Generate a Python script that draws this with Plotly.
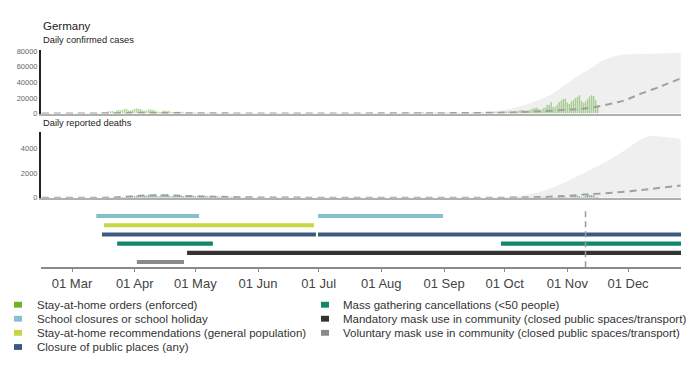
import pandas as pd
import plotly.graph_objects as go

# ---------------- data ----------------
country = "Germany"
cases_title = "Daily confirmed cases"
deaths_title = "Daily reported deaths"

x_start = "2020-02-14 16:00"
x_end = "2020-12-27 05:00"
today = "2020-11-10"

daily_start = "2020-02-15"
daily_cases = [
    0, 0, 0, 0, 0, 0, 0, 0, 0, 0, 5, 10, 20, 30, 50,  # Feb 15-29
    50, 30, 40, 60, 100, 150, 150, 100, 130, 240, 300, 700, 1000, 900, 1000, 1400, 1100, 2000, 2900, 3000,
    3300, 2000, 4000, 4700, 4300, 5000, 6000, 6300, 4000, 4000, 4900,  # Mar
    6200, 6500, 6100, 5900, 4000, 3700, 4000, 5600, 5300, 4900, 4100, 2800, 2500, 2100, 3900, 4000, 3400, 3600, 2000, 1800,
    1900, 2400, 2300, 2300, 1800, 1000, 1000, 1300, 1600, 1500,  # Apr
    1600, 900, 700, 700, 900, 1200, 1200, 1200, 700, 600, 900, 900, 800, 800, 600, 600, 300, 500, 600, 700,
    500, 500, 400, 200, 300, 400, 400, 300, 700, 300, 300,  # May
    200, 300, 400, 300, 500, 300, 300, 200, 300, 300, 600, 300, 400, 200, 200, 400, 300, 800, 700, 600,
    700, 500, 500, 600, 600, 500, 700, 300, 300, 400,  # Jun
    400, 500, 400, 400, 300, 200, 400, 400, 400, 400, 300, 200, 150, 400, 350, 500, 600, 400, 250, 150,
    400, 500, 600, 800, 700, 300, 300, 600, 700, 900, 900,  # Jul
    900, 250, 500, 900, 700, 1000, 1100, 1100, 550, 450, 1000, 1200, 1400, 1400, 1400, 600, 550, 1400, 1500, 1700,
    2000, 1700, 700, 700, 1300, 1600, 1500, 1500, 1500, 700, 600,  # Aug
    1200, 1300, 1300, 1400, 1400, 900, 800, 1200, 1200, 1800, 1500, 1600, 1000, 900, 1400, 1900, 2100, 2200, 1900, 1400,
    900, 1800, 2000, 2100, 2300, 2500, 1400, 1200, 2100, 2500,  # Sep
    2500, 2700, 2600, 1400, 1400, 2600, 2800, 4000, 4500, 4700, 2500, 2500, 4100, 5100, 6600, 7300, 7800, 5600, 4300, 6900,
    7600, 11300, 11200, 14700, 8700, 8700, 11400, 14900, 16800, 18700, 19100,  # Oct
    14100, 12100, 15400, 17200, 19900, 21500, 23400, 16000, 13400, 15300, 18500, 21900, 23500, 22500, 16900, 10800,  # Nov 1-16
]
daily_deaths = [
    0, 0, 0, 0, 0, 0, 0, 0, 0, 0, 0, 0, 0, 0, 0,  # Feb 15-29
    0, 0, 0, 0, 0, 0, 0, 0, 2, 0, 1, 1, 1, 2, 4, 3, 7, 5, 11, 20, 30, 25, 25, 40, 50, 60, 70, 45, 55, 110, 130,  # Mar
    150, 170, 170, 130, 130, 170, 190, 250, 210, 230, 170, 130, 130, 240, 300, 250, 300, 160, 110, 170,
    200, 250, 220, 180, 140, 100, 160, 200, 190, 160,  # Apr
    150, 80, 50, 60, 120, 140, 120, 110, 60, 30, 60, 120, 80, 90, 50, 40, 20, 50, 90, 50,
    50, 40, 20, 10, 40, 50, 40, 30, 30, 20, 10,  # May
    10, 20, 30, 20, 20, 10, 5, 10, 20, 20, 20, 10, 10, 5, 10, 15, 10, 10, 10, 5, 5, 5, 10, 10, 15, 10, 5, 5, 5, 10,  # Jun
    10, 10, 5, 5, 0, 5, 10, 10, 5, 5, 5, 0, 5, 5, 5, 5, 5, 5, 0, 5, 5, 5, 5, 5, 5, 0, 5, 5, 5, 5, 5,  # Jul
    5, 0, 5, 5, 5, 5, 5, 5, 0, 5, 5, 5, 5, 5, 5, 0, 5, 5, 5, 5, 5, 5, 0, 5, 5, 5, 5, 5, 5, 0, 5,  # Aug
    5, 5, 5, 5, 5, 0, 0, 5, 10, 5, 5, 5, 0, 0, 5, 10, 10, 5, 5, 0, 0, 10, 10, 10, 10, 10, 0, 5, 15, 10,  # Sep
    10, 15, 10, 5, 5, 15, 15, 20, 15, 20, 5, 5, 25, 30, 30, 35, 30, 10, 10, 40,
    40, 50, 50, 50, 20, 20, 40, 80, 90, 100, 80,  # Oct
    30, 30, 130, 150, 120, 170, 130, 60, 60, 150, 260, 210, 220, 180, 60, 60,  # Nov 1-16
]

proj_cases_dates = ["2020-02-15", "2020-03-15", "2020-04-01", "2020-04-15", "2020-05-15", "2020-07-01",
                    "2020-08-15", "2020-09-15", "2020-10-01", "2020-10-15", "2020-10-25", "2020-11-01",
                    "2020-11-08", "2020-11-17", "2020-11-25", "2020-11-30", "2020-12-06", "2020-12-18",
                    "2020-12-27"]
proj_cases = [0, 300, 1000, 800, 300, 200, 400, 800, 1300, 2500, 3800, 5000, 6000, 9500, 14000, 17500,
              24000, 35500, 45000]

band_cases_dates = ["2020-09-10", "2020-09-19", "2020-09-27", "2020-10-06", "2020-10-13", "2020-10-23",
                    "2020-10-30", "2020-11-05", "2020-11-12", "2020-11-18", "2020-11-24", "2020-11-30",
                    "2020-12-11", "2020-12-27"]
band_cases_upper = [0, 800, 3000, 7500, 13000, 23000, 35000, 46000, 57000, 67000, 73000, 75500, 76500, 77500]

proj_deaths_dates = ["2020-02-15", "2020-03-20", "2020-04-10", "2020-05-01", "2020-06-01", "2020-09-01",
                     "2020-10-01", "2020-10-23", "2020-11-08", "2020-11-26", "2020-12-12", "2020-12-27"]
proj_deaths = [0, 20, 200, 120, 30, 5, 10, 80, 240, 450, 720, 1000]

band_deaths_dates = ["2020-09-25", "2020-10-10", "2020-10-23", "2020-11-08", "2020-11-26", "2020-12-07",
                     "2020-12-12", "2020-12-18", "2020-12-27"]
band_deaths_upper = [0, 190, 720, 1920, 3520, 4720, 5040, 4980, 4800]

cases_ticks = [0, 20000, 40000, 60000, 80000]
deaths_ticks = [0, 2000, 4000]

# timeline rows (top to bottom)
timeline_names = ["School closures or school holiday",
                  "Stay-at-home recommendations (general population)",
                  "Closure of public places (any)",
                  "Mass gathering cancellations (<50 people)",
                  "Mandatory mask use in community (closed public spaces/transport)",
                  "Voluntary mask use in community (closed public spaces/transport)"]
timeline_colors = ["#86c0ca", "#c6d743", "#3c5a80", "#12876b", "#333333", "#8a8a8a"]
timeline_starts = [["2020-03-13", "2020-06-30 16:00"],
                   ["2020-03-16 20:00"],
                   ["2020-03-15 20:00", "2020-06-30 16:00"],
                   ["2020-03-23 08:00", "2020-09-29 04:00"],
                   ["2020-04-26 22:00"],
                   ["2020-04-02 02:00"]]
timeline_ends = [["2020-05-02 20:00", "2020-08-31 12:00"],
                 ["2020-06-28 16:00"],
                 ["2020-06-29 16:00", "2020-12-27 05:00"],
                 ["2020-05-09 16:00", "2020-12-27 05:00"],
                 ["2020-12-27 05:00"],
                 ["2020-04-25 10:00"]]

legend_labels = ["Stay-at-home orders (enforced)",
                 "School closures or school holiday",
                 "Stay-at-home recommendations (general population)",
                 "Closure of public places (any)",
                 "Mass gathering cancellations (&lt;50 people)",
                 "Mandatory mask use in community (closed public spaces/transport)",
                 "Voluntary mask use in community (closed public spaces/transport)"]
legend_colors = ["#6ab42d", "#86c0ca", "#c6d743", "#3c5a80", "#12876b", "#333333", "#8a8a8a"]

# ---------------- layout helpers ----------------
W, H = 700, 375
FONT = "Liberation Sans, Arial, sans-serif"


def fx(p):
    return p / W


def fy(p):
    return 1 - p / H


X_DOM = [fx(41), fx(681)]

daily_dates = pd.date_range(daily_start, periods=len(daily_cases), freq="D")
assert len(daily_cases) == len(daily_deaths) == 276

fig = go.Figure()

BAND = "rgba(120,120,120,0.12)"

# cases panel
fig.add_trace(go.Bar(x=daily_dates, y=daily_cases, width=86400000 * 0.7,
                     marker=dict(color="rgba(125,195,80,0.62)", line=dict(width=0)),
                     showlegend=False, xaxis="x", yaxis="y"))
fig.add_trace(go.Scatter(x=band_cases_dates, y=band_cases_upper, mode="lines", line=dict(width=0, shape="spline"),
                         fill="tozeroy", fillcolor=BAND, hoverinfo="skip", showlegend=False,
                         xaxis="x", yaxis="y"))
fig.add_trace(go.Scatter(x=proj_cases_dates, y=proj_cases, mode="lines",
                         line=dict(color="#a0a0a0", width=2, dash="7px,5px", shape="spline"),
                         showlegend=False, xaxis="x", yaxis="y"))

# deaths panel
fig.add_trace(go.Bar(x=daily_dates, y=daily_deaths, width=86400000 * 0.7,
                     marker=dict(color="rgba(80,145,105,0.7)", line=dict(width=0)),
                     showlegend=False, xaxis="x2", yaxis="y2"))
fig.add_trace(go.Scatter(x=band_deaths_dates, y=band_deaths_upper, mode="lines", line=dict(width=0, shape="spline"),
                         fill="tozeroy", fillcolor=BAND, hoverinfo="skip", showlegend=False,
                         xaxis="x2", yaxis="y2"))
fig.add_trace(go.Scatter(x=proj_deaths_dates, y=proj_deaths, mode="lines",
                         line=dict(color="#a0a0a0", width=2, dash="7px,5px", shape="spline"),
                         showlegend=False, xaxis="x2", yaxis="y2"))

# timeline panel
n_rows = len(timeline_names)
for i, (name, col, starts, ends) in enumerate(zip(timeline_names, timeline_colors, timeline_starts, timeline_ends)):
    row = n_rows - i
    durations = [(pd.Timestamp(e) - pd.Timestamp(s)).total_seconds() * 1000 for s, e in zip(starts, ends)]
    fig.add_trace(go.Bar(orientation="h", y=[row] * len(starts), x=durations, base=starts, width=0.45,
                         marker=dict(color=col, line=dict(width=0)), name=name, showlegend=False,
                         xaxis="x3", yaxis="y3"))

shapes = [dict(type="line", xref="x3", yref="y3 domain", x0=today, x1=today, y0=0, y1=0.93,
               line=dict(color="#9a9a9a", width=1.5, dash="6px,4px"))]

annotations = [
    dict(text=country, x=fx(41), y=fy(23), xref="paper", yref="paper", xanchor="left", yanchor="middle",
         showarrow=False, font=dict(family=FONT, size=11.5, color="#222")),
    dict(text=cases_title, x=fx(41), y=fy(37.5), xref="paper", yref="paper", xanchor="left", yanchor="middle",
         showarrow=False, font=dict(family=FONT, size=9.3, color="#222")),
    dict(text=deaths_title, x=fx(41), y=fy(122.5), xref="paper", yref="paper", xanchor="left", yanchor="middle",
         showarrow=False, font=dict(family=FONT, size=9.3, color="#222")),
]

# legend (two columns)
col_sq_x = [14, 321]
col_txt_x = [35, 341]
row_y = [308.3, 322.6, 337.0, 351.5]
for k, (lab, col) in enumerate(zip(legend_labels, legend_colors)):
    c = 0 if k < 4 else 1
    r = k if k < 4 else k - 4
    yc = row_y[r]
    shapes.append(dict(type="rect", xref="paper", yref="paper", x0=fx(col_sq_x[c]), x1=fx(col_sq_x[c] + 8),
                       y0=fy(yc + 3), y1=fy(yc - 3), fillcolor=col, line=dict(width=0)))
    annotations.append(dict(text=lab, x=fx(col_txt_x[c]), y=fy(yc), xref="paper", yref="paper",
                            xanchor="left", yanchor="middle", showarrow=False,
                            font=dict(family=FONT, size=11.5, color="#333")))

common_x = dict(type="date", range=[x_start, x_end], domain=X_DOM, showgrid=False, zeroline=False)

fig.update_layout(
    width=W, height=H, margin=dict(l=0, r=0, t=0, b=0),
    paper_bgcolor="white", plot_bgcolor="white",
    font=dict(family=FONT, color="#444"),
    barmode="overlay", showlegend=False, hovermode=False,
    shapes=shapes, annotations=annotations,
    xaxis=dict(**common_x, anchor="y", showline=True, linecolor="#b0b0b0", linewidth=1.5,
               showticklabels=False, ticks=""),
    yaxis=dict(domain=[fy(113), fy(48)], range=[0, 81250], anchor="x", showgrid=False, zeroline=False,
               showline=True, linecolor="#222", linewidth=2, tickvals=cases_ticks, tickformat="d", ticks="",
               tickfont=dict(family=FONT, size=7.5, color="#666")),
    xaxis2=dict(**common_x, anchor="y2", matches="x", showline=True, linecolor="#b0b0b0", linewidth=1.5,
                showticklabels=False, ticks=""),
    yaxis2=dict(domain=[fy(199), fy(132)], range=[0, 5360], anchor="x2", showgrid=False, zeroline=False,
                showline=True, linecolor="#222", linewidth=2, tickvals=deaths_ticks, tickformat="d", ticks="",
                tickfont=dict(family=FONT, size=7.5, color="#666")),
    xaxis3=dict(**common_x, anchor="y3", matches="x", showline=True, linecolor="#8a8a8a", linewidth=1.5,
                ticks="outside", ticklen=3, tickcolor="#8a8a8a", tickformat="%d %b", dtick="M1",
                tick0="2020-03-01", tickfont=dict(family=FONT, size=13, color="#444")),
    yaxis3=dict(domain=[fy(270), fy(205)], range=[0.436, 7.35], anchor="x3", visible=False),
)

fig.write_html("out.html", config={"displayModeBar": False},
               post_script="document.body.style.margin='0';document.body.style.overflow='hidden';")
